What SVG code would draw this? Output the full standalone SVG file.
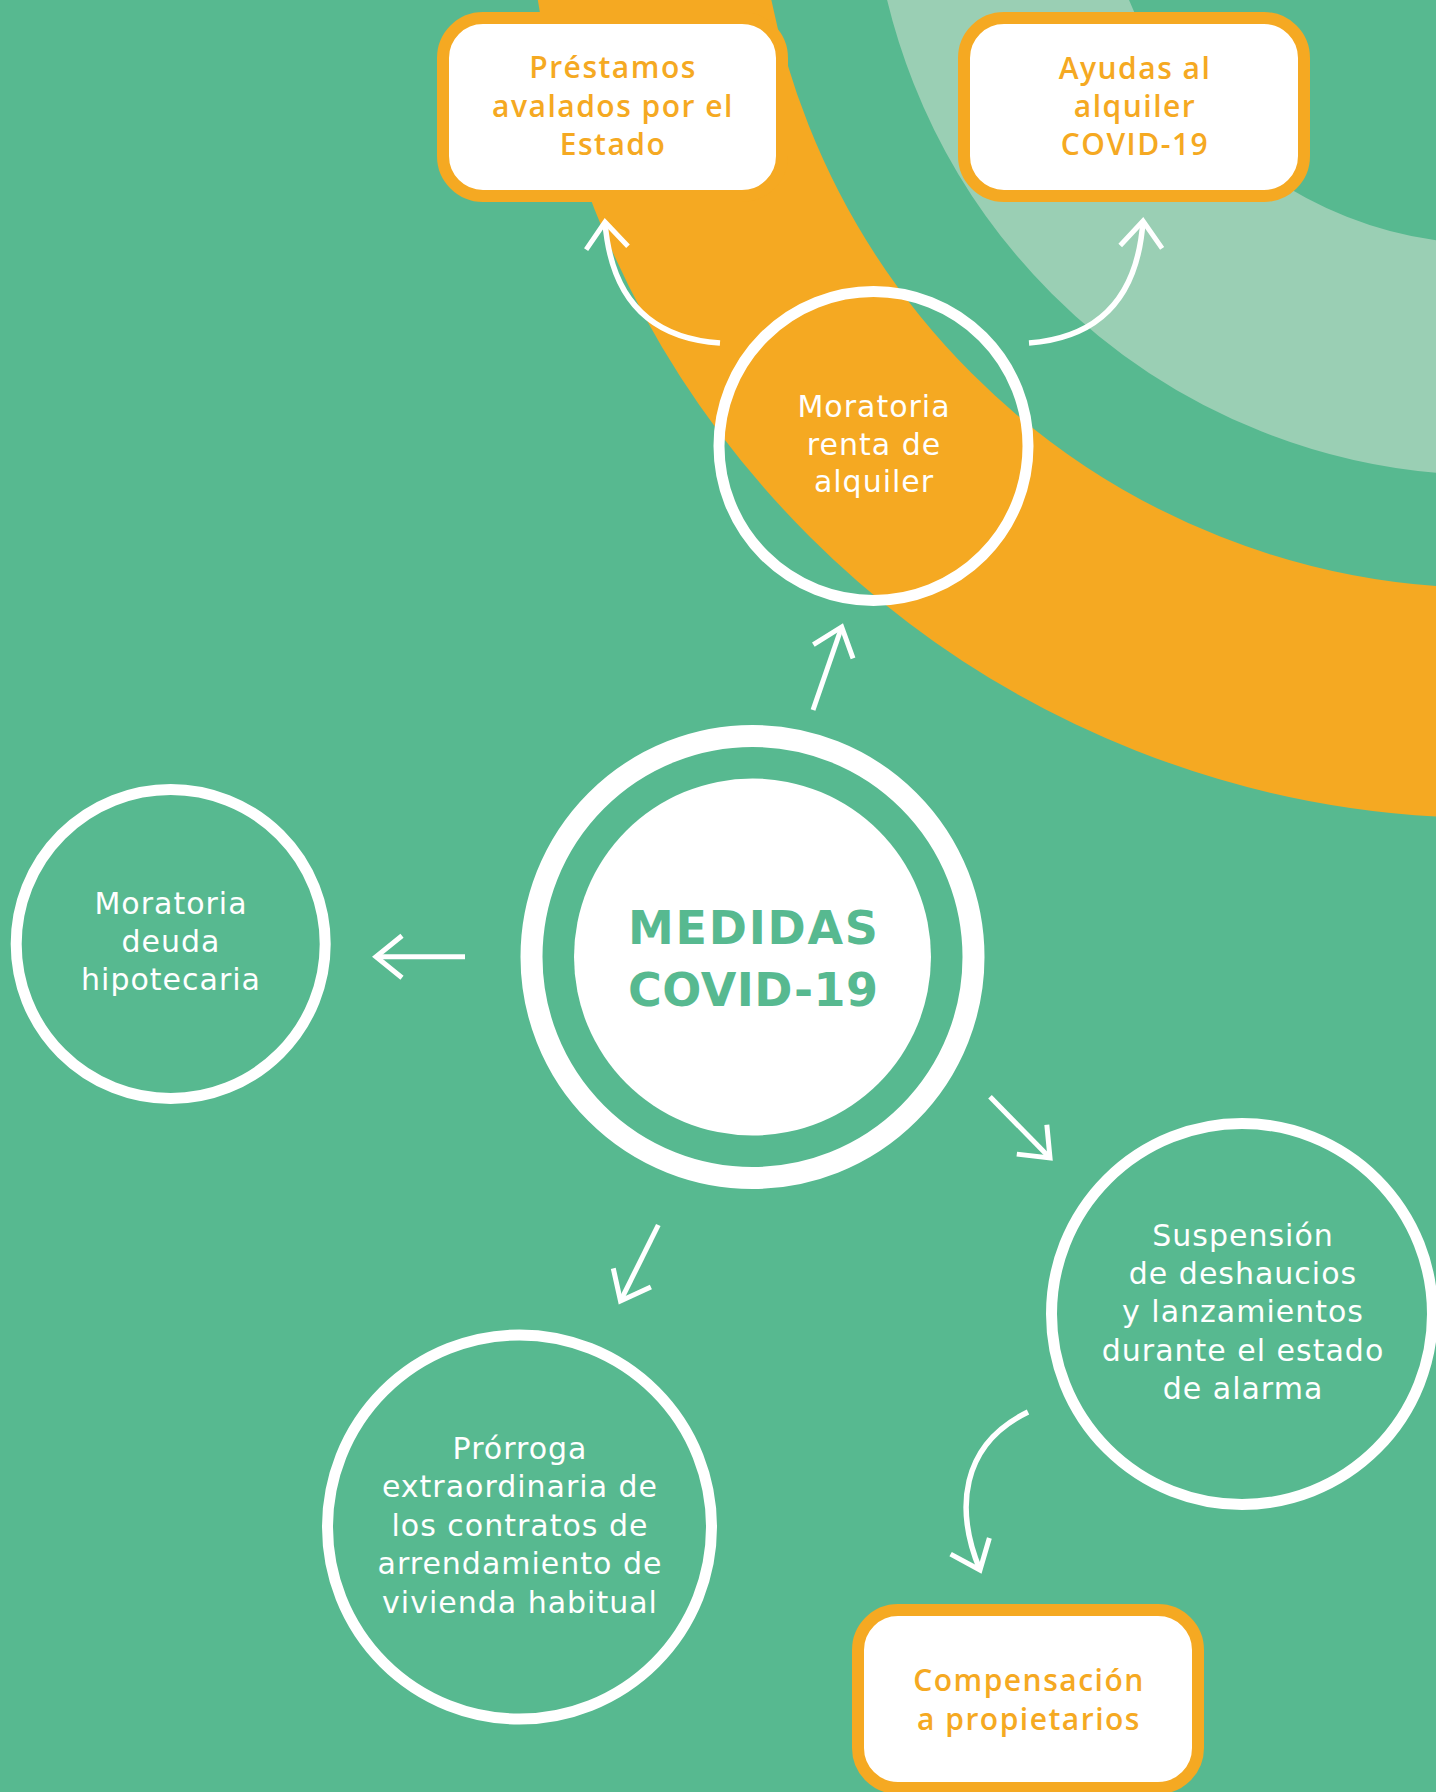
<svg xmlns="http://www.w3.org/2000/svg" width="1436" height="1792" viewBox="0 0 1436 1792">
  <defs>
    <style>
      .bg { fill: #57b990; }
      .band-orange { fill: none; stroke: #f5a922; stroke-width: 230; }
      .band-light { fill: none; stroke: #9acfb4; stroke-width: 231; }
      .ring { fill: none; stroke: #ffffff; stroke-width: 11; }
      .box { fill: #ffffff; stroke: #f5a922; stroke-width: 12; }
      .lbl { font-family: "DejaVu Sans", "Liberation Sans", sans-serif; font-size: 30px; fill: #ffffff; text-anchor: middle; letter-spacing: 1px; }
      .box-lbl { font-family: "Open Sans", "Liberation Sans", sans-serif; font-size: 30px; font-weight: 600; fill: #f5a922; text-anchor: middle; letter-spacing: 1.5px; }
      .title { font-family: "DejaVu Sans", "Liberation Sans", sans-serif; font-size: 46px; font-weight: 700; fill: #57b990; text-anchor: middle; }
      .link { fill: none; stroke: #ffffff; stroke-width: 5; marker-end: url(#chevron); }
      .curve { stroke-width: 5.5; }
    </style>
    <marker id="chevron" markerUnits="userSpaceOnUse" viewBox="-40 -30 48 60" refX="0" refY="0" markerWidth="48" markerHeight="60" orient="auto" overflow="visible">
      <path d="M-26,-21 L0,0 L-26,21" fill="none" stroke="#ffffff" stroke-width="5"/>
    </marker>
  </defs>

  <!-- background and decorative arcs -->
  <rect class="bg" x="0" y="0" width="1436" height="1792"/>
  <circle class="band-orange" cx="1490" cy="-145" r="848"/>
  <circle class="band-light" cx="1490" cy="-145" r="504.5"/>

  <!-- connectors -->
  <g id="connectors">
    <path class="link" d="M813,710 L841.7,627"/>
    <path class="link" d="M465,956.7 L376,956.7"/>
    <path class="link" d="M990,1096.7 L1050,1158"/>
    <path class="link" d="M658.3,1225 L620.5,1301"/>
    <path class="link curve" d="M720,343 Q614,336 605,222"/>
    <path class="link curve" d="M1029,343 Q1135,335 1143,221"/>
    <path class="link curve" d="M1028,1412 C960,1445 955,1510 980,1570"/>
  </g>

  <!-- central node -->
  <g id="medidas">
    <circle cx="752.5" cy="957" r="221" fill="none" stroke="#ffffff" stroke-width="22"/>
    <circle cx="752.5" cy="957" r="178.5" fill="#ffffff"/>
    <text class="title" x="753" y="944" textLength="250" lengthAdjust="spacing">MEDIDAS</text>
    <text class="title" x="753" y="1006" textLength="250" lengthAdjust="spacing">COVID-19</text>
  </g>

  <g id="moratoria-renta">
    <circle class="ring" cx="873.5" cy="446" r="154.5"/>
    <text class="lbl" x="874" y="417">Moratoria</text>
    <text class="lbl" x="874" y="455">renta de</text>
    <text class="lbl" x="874" y="492">alquiler</text>
  </g>

  <g id="moratoria-hipotecaria">
    <circle class="ring" cx="170.7" cy="944" r="154.5"/>
    <text class="lbl" x="171" y="914">Moratoria</text>
    <text class="lbl" x="171" y="952">deuda</text>
    <text class="lbl" x="171" y="990">hipotecaria</text>
  </g>

  <g id="suspension">
    <circle class="ring" cx="1242" cy="1314" r="190.5"/>
    <text class="lbl" x="1243" y="1246">Suspensión</text>
    <text class="lbl" x="1243" y="1284">de deshaucios</text>
    <text class="lbl" x="1243" y="1322">y lanzamientos</text>
    <text class="lbl" x="1243" y="1361">durante el estado</text>
    <text class="lbl" x="1243" y="1399">de alarma</text>
  </g>

  <g id="prorroga">
    <circle class="ring" cx="519.5" cy="1527" r="192"/>
    <text class="lbl" x="520" y="1459">Prórroga</text>
    <text class="lbl" x="520" y="1497">extraordinaria de</text>
    <text class="lbl" x="520" y="1536">los contratos de</text>
    <text class="lbl" x="520" y="1574">arrendamiento de</text>
    <text class="lbl" x="520" y="1613">vivienda habitual</text>
  </g>

  <g id="prestamos">
    <rect class="box" x="443" y="18" width="339" height="178" rx="40"/>
    <text class="box-lbl" x="613" y="78">Préstamos</text>
    <text class="box-lbl" x="613" y="117">avalados por el</text>
    <text class="box-lbl" x="613" y="155">Estado</text>
  </g>

  <g id="ayudas">
    <rect class="box" x="964" y="18" width="340" height="178" rx="40"/>
    <text class="box-lbl" x="1135" y="79">Ayudas al</text>
    <text class="box-lbl" x="1135" y="117">alquiler</text>
    <text class="box-lbl" x="1135" y="155">COVID-19</text>
  </g>

  <g id="compensacion">
    <rect class="box" x="858" y="1610" width="340" height="178" rx="40"/>
    <text class="box-lbl" x="1029" y="1691">Compensación</text>
    <text class="box-lbl" x="1029" y="1730">a propietarios</text>
  </g>
</svg>
